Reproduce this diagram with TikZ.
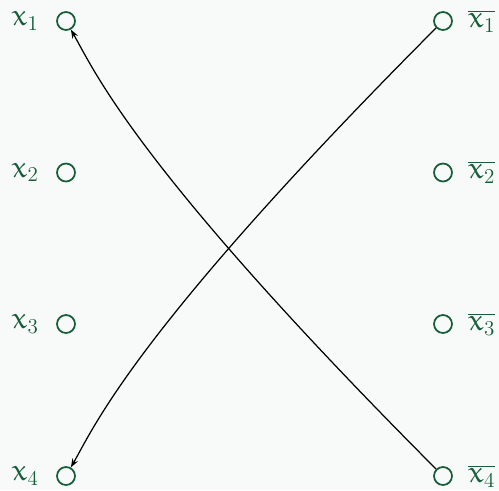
\documentclass[tikz,border=0pt]{standalone}
\usetikzlibrary{positioning,arrows.meta}
\DeclareMathAlphabet{\mathEu}{U}{eur}{m}{n}
\definecolor{vgreen}{RGB}{22,94,58}
\definecolor{paper}{RGB}{248,250,249}

\begin{document}
\begin{tikzpicture}[line cap=round,line join=round,
    vert/.style={circle,draw=vgreen,line width=1pt,inner sep=0pt,minimum size=0.36cm},
    lab/.style={text=vgreen,inner sep=0pt,font=\LARGE},
    edge/.style={line width=0.7pt,-{Stealth[length=5pt,width=3.6pt]}}]
  \fill[paper] (0,0) rectangle (9.98,9.8);
  \useasboundingbox (0,0) rectangle (9.98,9.8);
  \node[vert] (x1) at (1.32,9.38) {};
  \node[vert] (x2) at (1.32,6.35) {};
  \node[vert] (x3) at (1.32,3.32) {};
  \node[vert] (x4) at (1.32,0.28) {};
  \node[vert] (y1) at (8.86,9.38) {};
  \node[vert] (y2) at (8.86,6.35) {};
  \node[vert] (y3) at (8.86,3.32) {};
  \node[vert] (y4) at (8.86,0.28) {};
  \node[lab,left=0.34cm of x1] (lx1) {$\mathEu{x}_1$};
  \node[lab,left=0.34cm of x2] (lx2) {$\mathEu{x}_2$};
  \node[lab,left=0.34cm of x3] (lx3) {$\mathEu{x}_3$};
  \node[lab,left=0.34cm of x4] (lx4) {$\mathEu{x}_4$};
  \node[lab,right=0.3cm of y1] (ly1) {$\overline{\mathEu{x}_1}$};
  \node[lab,right=0.3cm of y2] (ly2) {$\overline{\mathEu{x}_2}$};
  \node[lab,right=0.3cm of y3] (ly3) {$\overline{\mathEu{x}_3}$};
  \node[lab,right=0.3cm of y4] (ly4) {$\overline{\mathEu{x}_4}$};
  \draw[edge] (y4) .. controls (2.74,6.42) and (1.90,8.36) .. (x1);
  \draw[edge] (y1) .. controls (2.74,3.24) and (1.90,1.30) .. (x4);
\end{tikzpicture}
\end{document}
